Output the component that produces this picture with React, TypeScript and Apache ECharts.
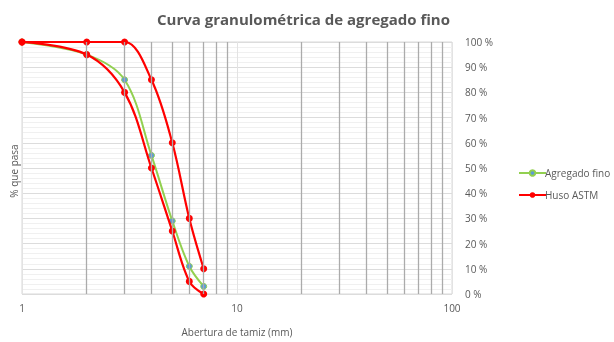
import React, { useEffect, useRef } from "react";
import * as echarts from "echarts";

const sieveOpenings = [1, 2, 3, 4, 5, 6, 7];
const agregadoFino = [100, 95, 85, 55, 29, 11, 3];
const husoSuperior = [100, 100, 100, 85, 60, 30, 10];
const husoInferior = [100, 95, 80, 50, 25, 5, 0];
const minorGridX = [2, 3, 4, 5, 6, 7, 8, 9, 20, 30, 40, 50, 60, 70, 80, 90];
const yTicks = [0, 10, 20, 30, 40, 50, 60, 70, 80, 90, 100];

const FONT = "'Open Sans', 'Noto Sans', sans-serif";
const TXT = "#595959";

function pairs(xs: number[], ys: number[]) {
  return xs.map((x, i) => [x, ys[i]]);
}

export default function App() {
  const ref = useRef<HTMLDivElement>(null);
  useEffect(() => {
    if (!ref.current) return;
    const chart = echarts.init(ref.current, undefined, { renderer: "svg" });
    chart.setOption({
      animation: false,
      textStyle: { fontFamily: FONT },
      title: {
        text: "Curva granulométrica de agregado fino",
        left: 152,
        top: 6,
        textStyle: { fontFamily: FONT, fontSize: 15, fontWeight: "bold", color: TXT },
      },
      legend: {
        data: ["Agregado fino", "Huso ASTM"],
        orient: "vertical",
        left: 513,
        top: 163,
        itemWidth: 27,
        itemHeight: 7,
        itemGap: 12,
        textStyle: { fontFamily: FONT, fontSize: 10, color: TXT, padding: [0, 0, 0, -6] },
      },
      grid: {
        left: 22,
        right: 162,
        top: 42,
        bottom: 40,
        show: true,
        borderColor: "#D9D9D9",
        borderWidth: 1,
      },
      xAxis: {
        type: "log",
        logBase: 10,
        min: 1,
        max: 100,
        name: "Abertura de tamiz (mm)",
        nameLocation: "middle",
        nameGap: 33,
        nameTextStyle: { fontFamily: FONT, fontSize: 10, color: TXT },
        axisLine: { show: false },
        axisTick: { show: false },
        axisLabel: { fontFamily: FONT, fontSize: 10, color: TXT, margin: 9 },
        splitLine: { show: true, lineStyle: { color: "#E3E3E3", width: 1 } },
      },
      yAxis: {
        type: "value",
        position: "right",
        min: yTicks[0],
        max: yTicks[yTicks.length - 1],
        interval: 10,
        axisLine: { show: false },
        axisTick: { show: false },
        axisLabel: {
          fontFamily: FONT,
          fontSize: 10,
          color: TXT,
          margin: 13,
          formatter: "{value} %",
        },
        splitLine: { show: true, lineStyle: { color: "#DCDCDC", width: 1 } },
        minorTick: { show: false, splitNumber: 5 },
        minorSplitLine: { show: true, lineStyle: { color: "#F0F0F0", width: 1 } },
      },
      graphic: [
        {
          type: "text",
          x: 14,
          y: 171,
          rotation: Math.PI / 2,
          style: {
            text: "% que pasa",
            fontFamily: FONT,
            fontSize: 10,
            fill: TXT,
            align: "center",
            verticalAlign: "middle",
          },
        },
      ],
      series: [
        {
          name: "grid",
          type: "line",
          data: [[1, 100]],
          showSymbol: false,
          lineStyle: { opacity: 0 },
          silent: true,
          z: 1,
          markLine: {
            silent: true,
            symbol: ["none", "none"],
            label: { show: false },
            lineStyle: { color: "#ABABAB", width: 1.3, type: "solid" },
            data: minorGridX.map((v) => ({ xAxis: v })),
          },
        },
        {
          name: "Agregado fino",
          type: "line",
          z: 3,
          smooth: 0.35,
          data: pairs(sieveOpenings, agregadoFino),
          symbol: "circle",
          symbolSize: 6,
          lineStyle: { color: "#92D050", width: 2 },
          itemStyle: { color: "#5B9BD5", borderColor: "#92D050", borderWidth: 1 },
        },
        {
          name: "Huso ASTM",
          type: "line",
          z: 4,
          smooth: 0.35,
          data: pairs(sieveOpenings, husoSuperior),
          symbol: "circle",
          symbolSize: 7,
          lineStyle: { color: "#FF0000", width: 2.2 },
          itemStyle: { color: "#FF0000" },
        },
        {
          name: "Huso ASTM",
          type: "line",
          z: 4,
          smooth: 0.35,
          data: pairs(sieveOpenings, husoInferior),
          symbol: "circle",
          symbolSize: 7,
          lineStyle: { color: "#FF0000", width: 2.2 },
          itemStyle: { color: "#FF0000" },
        },
      ],
    });
    return () => chart.dispose();
  }, []);
  return (
    <div
      ref={ref}
      style={{ position: "fixed", left: 0, top: 0, width: 614, height: 342 }}
    />
  );
}
